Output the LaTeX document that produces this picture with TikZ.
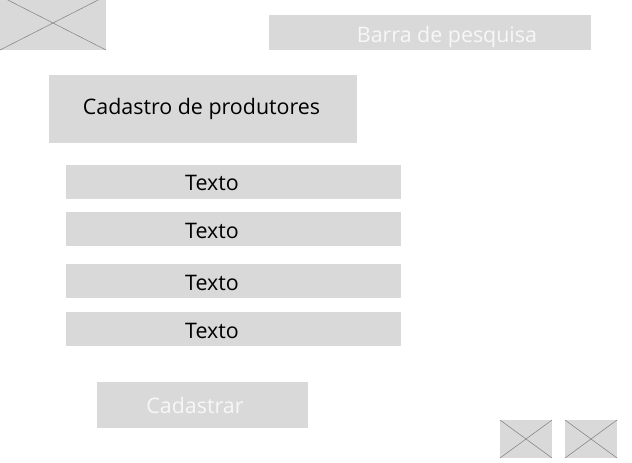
\documentclass[tikz,border=0pt]{standalone}
\usepackage{fontspec}
\setmainfont{Open Sans}
\usetikzlibrary{calc}
\definecolor{boxgray}{HTML}{D9D9D9}
\definecolor{crossgray}{HTML}{7F7F7F}
\tikzset{
  greybox/.style={fill=boxgray,inner sep=0pt,outer sep=0pt,anchor=north west},
  crossline/.style={crossgray,line width=0.5pt},
  darktext/.style={text=black,font=\fontsize{21.4}{25}\selectfont,inner sep=0pt},
  lighttext/.style={text=white!80!boxgray,font=\fontsize{21.4}{25}\selectfont,inner sep=0pt}
}

\begin{document}
\begin{tikzpicture}[x=1pt,y=-1pt]
  \useasboundingbox (0,0) rectangle (632,463);

  \node[greybox,minimum width=106pt,minimum height=54pt] (Logo) at (0,-4) {};
  \node[greybox,minimum width=322pt,minimum height=35pt] (Search) at (269,15) {};
  \node[greybox,minimum width=308pt,minimum height=68pt] (Title) at (49,75) {};
  \node[greybox,minimum width=335pt,minimum height=34pt] (FieldA) at (66,165) {};
  \node[greybox,minimum width=335pt,minimum height=34pt] (FieldB) at (66,212) {};
  \node[greybox,minimum width=335pt,minimum height=34pt] (FieldC) at (66,264) {};
  \node[greybox,minimum width=335pt,minimum height=34pt] (FieldD) at (66,312) {};
  \node[greybox,minimum width=211pt,minimum height=46pt] (Submit) at (97,382) {};
  \node[greybox,minimum width=52pt,minimum height=38pt] (IconA) at (500,420) {};
  \node[greybox,minimum width=52pt,minimum height=38pt] (IconB) at (565,420) {};

  \draw[crossline] (Logo.north west) -- (Logo.south east)
                   (Logo.south west) -- (Logo.north east);
  \draw[crossline] (IconA.north west) -- (IconA.south east)
                   (IconA.south west) -- (IconA.north east);
  \draw[crossline] (IconB.north west) -- (IconB.south east)
                   (IconB.south west) -- (IconB.north east);

  \node[lighttext] (SearchText) at (447,36.5) {Barra de pesquisa};
  \node[darktext] (TitleText) at (201.5,109) {Cadastro de produtores};
  \node[darktext] (FieldAText) at (212,183) {Texto};
  \node[darktext] (FieldBText) at (212,231) {Texto};
  \node[darktext] (FieldCText) at (212,283) {Texto};
  \node[darktext] (FieldDText) at (212,331) {Texto};
  \node[lighttext] (SubmitText) at (195,405.5) {Cadastrar};
\end{tikzpicture}
\end{document}
